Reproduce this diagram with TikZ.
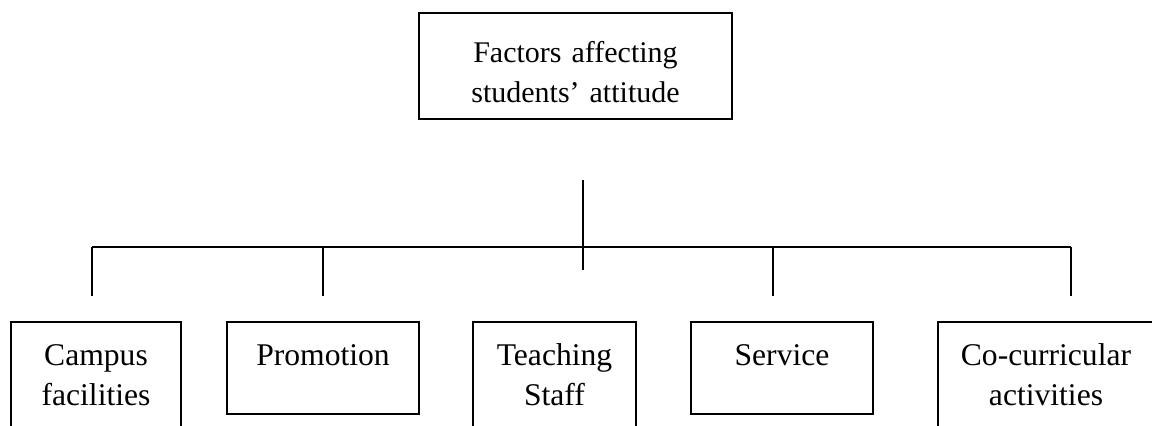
\documentclass[tikz,border=0pt]{standalone}
\usepackage{fontspec}
\setmainfont{Liberation Serif}

\begin{document}
\begin{tikzpicture}[x=0.5pt,y=-0.5pt,line width=0.9pt,
  box/.style={draw,anchor=north,inner sep=0pt,align=center,text height=22pt,text depth=24pt,font=\fontsize{15.8}{20}\selectfont},
  openbox/.style={box,text depth=90pt},
  font=\fontsize{15}{20}\selectfont]
\clip (0,0) rectangle (1152,425);
\node[box,font=\fontsize{15}{20}\selectfont,text width=156.5pt,text height=25pt,text depth=28pt](F) at (575.5,12) {Factors affecting\\students' attitude};
\node[openbox,text width=85pt](C) at (96,321) {Campus\\facilities};
\node[box,text width=96pt](P) at (323,321) {Promotion};
\node[openbox,text width=81.5pt](T) at (554.5,321) {Teaching\\Staff};
\node[box,text width=91pt](S) at (782,321) {Service};
\node[openbox,text width=108pt](A) at (1046,321) {Co-curricular\\activities};
\coordinate (top) at (583,180);
\coordinate (mid) at (583,270);
\coordinate (L) at (92,247);
\coordinate (R) at (1071,247);
\coordinate (bP) at (323,247);
\coordinate (bS) at (773,247);
\coordinate (dC) at (92,296);
\coordinate (dP) at (323,296);
\coordinate (dS) at (773,296);
\coordinate (dA) at (1071,296);
\draw (top) -- (mid);
\draw (L) -- (R);
\draw (L) -- (dC);
\draw (bP) -- (dP);
\draw (bS) -- (dS);
\draw (R) -- (dA);
\end{tikzpicture}
\end{document}
